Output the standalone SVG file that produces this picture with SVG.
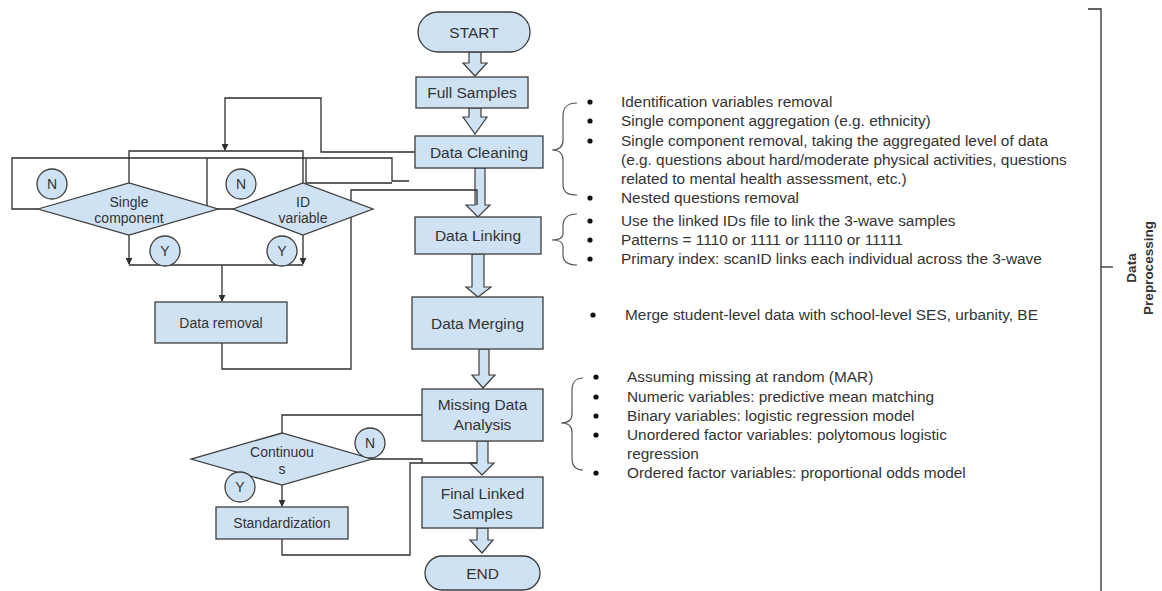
<svg xmlns="http://www.w3.org/2000/svg" width="1162" height="591" viewBox="0 0 1162 591">
  <defs>
    <style>
      .box { fill: #cfe2f3; stroke: #3c3c3c; stroke-width: 1.3; }
      .blk { fill: #cfe2f3; stroke: #3c3c3c; stroke-width: 1.2; stroke-linejoin: miter; }
      .ln { fill: none; stroke: #2e2e2e; stroke-width: 1.3; }
      .br { fill: none; stroke: #555; stroke-width: 1.2; }
      .t { font-family: "Liberation Sans", Arial, sans-serif; fill: #333; }
      .tb { font-size: 15.5px; text-anchor: middle; }
      .ts { font-size: 14px; text-anchor: middle; }
      .bl { font-size: 15.4px; }
      .dot { fill: #111; }
    </style>
    <marker id="ah" viewBox="0 0 8 8" refX="7" refY="4" markerWidth="7" markerHeight="7" orient="auto" markerUnits="userSpaceOnUse">
      <path d="M0,0 L8,4 L0,8 z" fill="#2e2e2e"/>
    </marker>
  </defs>
  <rect width="1162" height="591" fill="#ffffff"/>

  <!-- connectors -->
  <g id="connectors">
    <!-- main flow block arrows -->
    <path class="blk" d="M469,52 L481,52 L481,63 L487,63 L475,76 L463,63 L469,63 z"/>
    <path class="blk" d="M469,108 L481,108 L481,117 L487,117 L475,134 L463,117 L469,117 z"/>
    <path class="blk" d="M475,168 L485,168 L485,205 L490,205 L478,217 L466,205 L475,205 z"/>
    <path class="blk" d="M472,254 L484,254 L484,287 L491,287 L478,297 L466,287 L472,287 z"/>
    <path class="blk" d="M479,349 L489,349 L489,375 L495,375 L483,388 L472,375 L479,375 z"/>
    <path class="blk" d="M477,441 L488,441 L488,463 L494,463 L482,475 L470,463 L477,463 z"/>
    <path class="blk" d="M477,528 L488,528 L488,540 L493,540 L482,553 L470,540 L477,540 z"/>

    <!-- cleaning loop back to the checks -->
    <path class="ln" d="M415,152 L321,152 L321,98 L225,98 L225,150" marker-end="url(#ah)"/>
    <path class="ln" d="M129,183 L129,151 L303,151 L303,183"/>
    <!-- N branches -->
    <path class="ln" d="M38,209 L12,209 L12,158 L392,158 L392,181 L409,181"/>
    <path class="ln" d="M207,158 L207,209 L233,209"/>
    <path class="ln" d="M306,159 L306,183 L392,183"/>
    <!-- Y branches -->
    <path class="ln" d="M129,235 L129,264" marker-end="url(#ah)"/>
    <path class="ln" d="M303,235 L303,264" marker-end="url(#ah)"/>
    <path class="ln" d="M129,265 L303,265"/>
    <path class="ln" d="M222,265 L222,301" marker-end="url(#ah)"/>
    <!-- removal back to the main flow -->
    <path class="ln" d="M222,343 L222,369 L351,369 L351,190 L477,190 L477,205"/>

    <!-- missing data branch -->
    <path class="ln" d="M422,415 L282,415 L282,433"/>
    <path class="ln" d="M282,485 L282,506" marker-end="url(#ah)"/>
    <path class="ln" d="M372,459 L422,459 L422,463"/>
    <path class="ln" d="M282,539 L282,555 L410,555 L410,463 L477,463"/>
  </g>

  <!-- main flow -->
  <g id="start">
    <rect class="box" x="418" y="12" width="112" height="40" rx="20"/>
    <text class="t tb" x="474" y="37.5">START</text>
  </g>
  <g id="full-samples">
    <rect class="box" x="416" y="77" width="112" height="31"/>
    <text class="t tb" x="472" y="98">Full Samples</text>
  </g>
  <g id="data-cleaning">
    <rect class="box" x="415" y="136" width="128" height="32"/>
    <text class="t tb" x="479" y="157.5">Data Cleaning</text>
  </g>
  <g id="data-linking">
    <rect class="box" x="415" y="217" width="126" height="37"/>
    <text class="t tb" x="478" y="241">Data Linking</text>
  </g>
  <g id="data-merging">
    <rect class="box" x="412" y="297" width="131" height="52"/>
    <text class="t tb" x="477.5" y="328.5">Data Merging</text>
  </g>
  <g id="missing-data">
    <rect class="box" x="422" y="389" width="121" height="52"/>
    <text class="t tb" x="482.5" y="410">Missing Data</text>
    <text class="t tb" x="482.5" y="430">Analysis</text>
  </g>
  <g id="final-linked">
    <rect class="box" x="422" y="477" width="121" height="51"/>
    <text class="t tb" x="482.5" y="499">Final Linked</text>
    <text class="t tb" x="482.5" y="518.5">Samples</text>
  </g>
  <g id="end">
    <rect class="box" x="425" y="556" width="115" height="34" rx="17"/>
    <text class="t tb" x="482.5" y="578.5">END</text>
  </g>

  <!-- cleaning checks -->
  <g id="single-component">
    <path class="box" d="M38,209 L129,183 L218,209 L129,235 z"/>
    <text class="t ts" x="129" y="207">Single</text>
    <text class="t ts" x="129" y="223">component</text>
  </g>
  <g id="id-variable">
    <path class="box" d="M233,209 L303,183 L373,209 L303,235 z"/>
    <text class="t ts" x="303" y="207">ID</text>
    <text class="t ts" x="303" y="223">variable</text>
  </g>
  <g id="n-single">
    <circle class="box" cx="52" cy="184" r="15"/>
    <text class="t ts" x="52" y="189">N</text>
  </g>
  <g id="n-id">
    <circle class="box" cx="241" cy="184" r="15"/>
    <text class="t ts" x="241" y="189">N</text>
  </g>
  <g id="y-single">
    <circle class="box" cx="165" cy="251" r="15"/>
    <text class="t ts" x="165" y="256">Y</text>
  </g>
  <g id="y-id">
    <circle class="box" cx="282" cy="251" r="15"/>
    <text class="t ts" x="282" y="256">Y</text>
  </g>
  <g id="data-removal">
    <rect class="box" x="155" y="302" width="132" height="41"/>
    <text class="t ts" x="221" y="327.5">Data removal</text>
  </g>

  <!-- missing data check -->
  <g id="continuous">
    <path class="box" d="M191,459 L282,433 L372,459 L282,485 z"/>
    <text class="t ts" x="282" y="457">Continuou</text>
    <text class="t ts" x="282" y="474">s</text>
  </g>
  <g id="n-continuous">
    <circle class="box" cx="370" cy="443" r="15"/>
    <text class="t ts" x="370" y="448">N</text>
  </g>
  <g id="y-continuous">
    <circle class="box" cx="240" cy="487" r="15"/>
    <text class="t ts" x="240" y="492">Y</text>
  </g>
  <g id="standardization">
    <rect class="box" x="216" y="507" width="132" height="32"/>
    <text class="t ts" x="282" y="528">Standardization</text>
  </g>

  <!-- notes -->
  <g id="cleaning-notes">
    <path class="br" d="M577,103 C567,103 563,107 563,116 L563,140 C563,147 559,150 552,150 C559,150 563,153 563,160 L563,184 C563,192 567,195 577,195"/>
    <circle class="dot" cx="590" cy="102" r="2.6"/>
    <circle class="dot" cx="590" cy="121" r="2.6"/>
    <circle class="dot" cx="590" cy="141" r="2.6"/>
    <circle class="dot" cx="590" cy="198" r="2.6"/>
    <text class="t bl" x="621" y="107">Identification variables removal</text>
    <text class="t bl" x="621" y="126">Single component aggregation (e.g. ethnicity)</text>
    <text class="t bl" x="621" y="146">Single component removal, taking the aggregated level of data</text>
    <text class="t bl" x="621" y="165">(e.g. questions about hard/moderate physical activities, questions</text>
    <text class="t bl" x="621" y="184">related to mental health assessment, etc.)</text>
    <text class="t bl" x="621" y="203">Nested questions removal</text>
  </g>
  <g id="linking-notes">
    <path class="br" d="M577,214 C568,214 563,218 563,226 L563,234 C563,238 559,240 552,240 C559,240 563,242 563,246 L563,255 C563,262 568,265 577,265"/>
    <circle class="dot" cx="590" cy="221" r="2.6"/>
    <circle class="dot" cx="590" cy="240" r="2.6"/>
    <circle class="dot" cx="590" cy="259" r="2.6"/>
    <text class="t bl" x="621" y="226">Use the linked IDs file to link the 3-wave samples</text>
    <text class="t bl" x="621" y="245">Patterns = 1110 or 1111 or 11110 or 11111</text>
    <text class="t bl" x="621" y="264">Primary index: scanID links each individual across the 3-wave</text>
  </g>
  <g id="merging-notes">
    <circle class="dot" cx="593" cy="315" r="2.6"/>
    <text class="t bl" x="625" y="320">Merge student-level data with school-level SES, urbanity, BE</text>
  </g>
  <g id="missing-notes">
    <path class="br" d="M583,378 C575,378 572,382 572,391 L572,414 C572,420 568,423 561,423 C568,423 572,426 572,432 L572,458 C572,466 575,470 583,470"/>
    <circle class="dot" cx="596" cy="377" r="2.6"/>
    <circle class="dot" cx="596" cy="397" r="2.6"/>
    <circle class="dot" cx="596" cy="416" r="2.6"/>
    <circle class="dot" cx="596" cy="435" r="2.6"/>
    <circle class="dot" cx="596" cy="473" r="2.6"/>
    <text class="t bl" x="627" y="382">Assuming missing at random (MAR)</text>
    <text class="t bl" x="627" y="402">Numeric variables: predictive mean matching</text>
    <text class="t bl" x="627" y="421">Binary variables: logistic regression model</text>
    <text class="t bl" x="627" y="440">Unordered factor variables: polytomous logistic</text>
    <text class="t bl" x="627" y="459">regression</text>
    <text class="t bl" x="627" y="478">Ordered factor variables: proportional odds model</text>
  </g>

  <!-- stage bracket -->
  <g id="stage">
    <path class="ln" d="M1088,9 L1101,9 L1101,591"/>
    <path class="ln" d="M1101,267 L1113,267"/>
    <text class="t" font-size="13.5" font-weight="bold" text-anchor="middle" transform="translate(1136,268) rotate(-90)">Data</text>
    <text class="t" font-size="13.5" font-weight="bold" text-anchor="middle" transform="translate(1153,268) rotate(-90)">Preprocessing</text>
  </g>
</svg>
